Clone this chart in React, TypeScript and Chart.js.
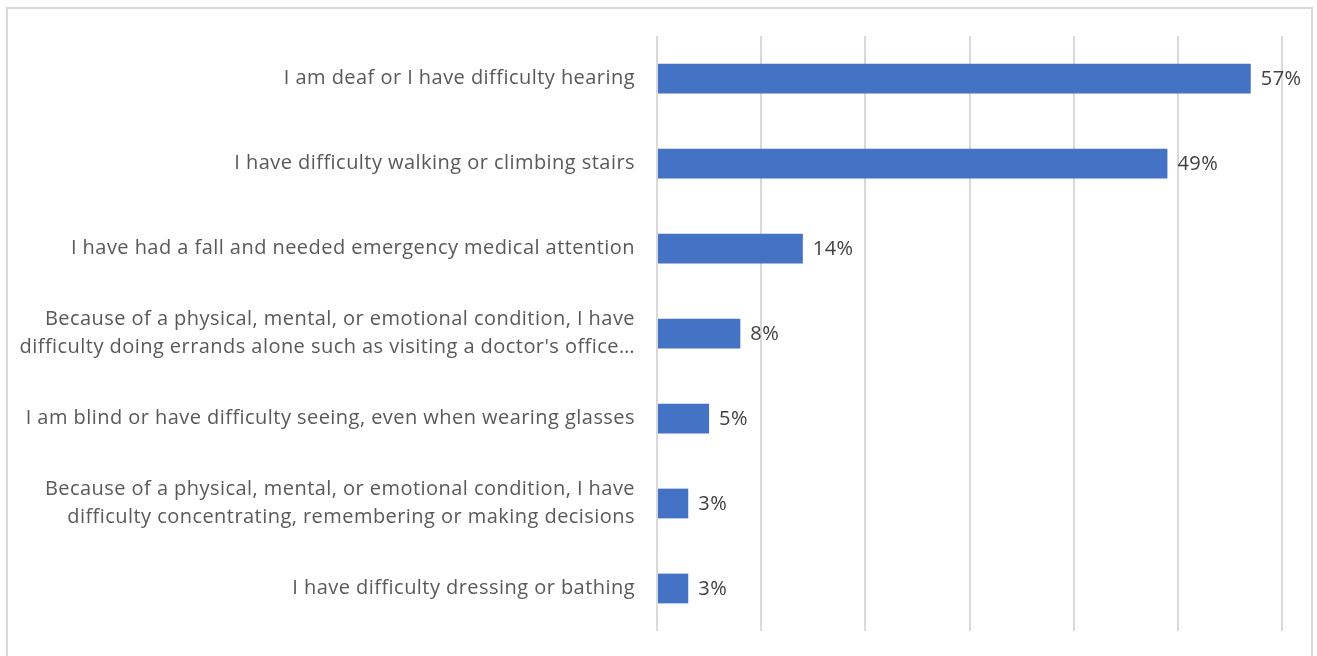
import React, { useEffect, useRef } from "react";
import { Chart, registerables } from "chart.js";

Chart.register(...registerables);

const categories: (string | string[])[] = [
  "I am deaf or I have difficulty hearing",
  "I have difficulty walking or climbing stairs",
  "I have had a fall and needed emergency medical attention",
  ["Because of a physical, mental, or emotional condition, I have", "difficulty doing errands alone such as visiting a doctor's office…"],
  "I am blind or have difficulty seeing, even when wearing glasses",
  ["Because of a physical, mental, or emotional condition, I have", "difficulty concentrating, remembering or making decisions"],
  "I have difficulty dressing or bathing",
];
const values: number[] = [57, 49, 14, 8, 5, 3, 3];
const valueLabels: string[] = ["57%", "49%", "14%", "8%", "5%", "3%", "3%"];

const FONT = "'Open Sans', sans-serif";
const FSIZE = 20;
const SPACING = "0.45px";

const spacingPlugin = {
  id: "spacing",
  beforeUpdate(chart: any) {
    chart.ctx.letterSpacing = SPACING;
  },
  beforeLayout(chart: any) {
    chart.ctx.letterSpacing = SPACING;
  },
  beforeDraw(chart: any) {
    chart.ctx.letterSpacing = SPACING;
  },
};

const labelPlugin = {
  id: "valueLabels",
  afterDatasetsDraw(chart: any) {
    const ctx = chart.ctx;
    const meta = chart.getDatasetMeta(0);
    ctx.save();
    ctx.letterSpacing = SPACING;
    ctx.font = `${FSIZE}px ${FONT}`;
    ctx.fillStyle = "#404040";
    ctx.textAlign = "left";
    ctx.textBaseline = "middle";
    meta.data.forEach((bar: any, i: number) => {
      ctx.fillText(valueLabels[i], bar.x + 10, bar.y + 1);
    });
    ctx.restore();
  },
};

export default function App() {
  const ref = useRef<HTMLCanvasElement>(null);
  useEffect(() => {
    if (!ref.current) return;
    const chart = new Chart(ref.current, {
      type: "bar",
      data: {
        labels: categories,
        datasets: [
          {
            data: values,
            backgroundColor: "#4472C4",
            borderWidth: 0,
            barPercentage: 0.35,
            categoryPercentage: 1,
          },
        ],
      },
      options: {
        indexAxis: "y",
        responsive: false,
        animation: false,
        maintainAspectRatio: false,
        layout: { padding: { left: 0, right: 27, top: 27, bottom: 38 } },
        plugins: { legend: { display: false }, tooltip: { enabled: false } },
        scales: {
          x: {
            min: 0,
            max: 60,
            ticks: { display: false, stepSize: 10 },
            grid: { color: "#d9d9d9", lineWidth: 2, drawTicks: false },
            border: { display: false },
            afterFit: (s: any) => {
              s.height = 0;
              s.paddingLeft = 0;
              s.paddingRight = 0;
            },
          },
          y: {
            ticks: {
              color: "#595959",
              font: { family: FONT, size: FSIZE, lineHeight: 1.42 },
              padding: 22,
              autoSkip: false,
            },
            grid: { display: false, drawTicks: false },
            border: { display: false },
            afterFit: (s: any) => {
              s.width = 649;
              s.paddingTop = 0;
              s.paddingBottom = 0;
            },
          },
        },
      },
      plugins: [spacingPlugin, labelPlugin],
    });
    return () => chart.destroy();
  }, []);
  return (
    <div
      style={{
        position: "absolute",
        left: 6,
        top: 7,
        width: 1303,
        height: 660,
        border: "2px solid #d9d9d9",
        background: "#fff",
      }}
    >
      <canvas ref={ref} width={1301} height={660} style={{ display: "block" }} />
    </div>
  );
}
